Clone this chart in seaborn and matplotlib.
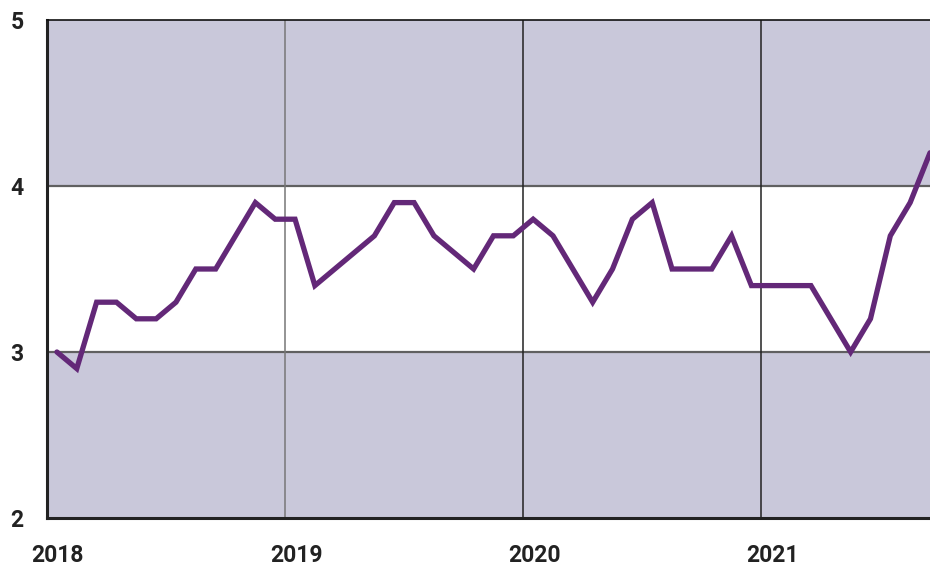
import matplotlib
matplotlib.use("Agg")
import matplotlib.pyplot as plt
import seaborn as sns
import numpy as np
import pandas as pd

# Monthly values, Jan 2018 .. Sep 2021
start_year = 2018
values = [3.0, 2.9, 3.3, 3.3, 3.2, 3.2, 3.3, 3.5, 3.5, 3.7, 3.9, 3.8,
          3.8, 3.4, 3.5, 3.6, 3.7, 3.9, 3.9, 3.7, 3.6, 3.5, 3.7, 3.7,
          3.8, 3.7, 3.5, 3.3, 3.5, 3.8, 3.9, 3.5, 3.5, 3.5, 3.7, 3.4,
          3.4, 3.4, 3.4, 3.2, 3.0, 3.2, 3.7, 3.9, 4.2]
year_labels = ["2018", "2019", "2020", "2021"]
y_ticks = [2, 3, 4, 5]

t = [start_year + (i + 0.5) / 12 for i in range(len(values))]
df = pd.DataFrame({"t": t, "value": values})

sns.set_theme(style="white")
plt.rcParams['font.family'] = ['Roboto', 'DejaVu Sans']

fig = plt.figure(figsize=(9.3, 5.68), dpi=100)
ax = fig.add_axes([47/930, 50/568, 883/930, 498/568])

band = "#c9c8da"
ax.axhspan(2, 3, color=band, zorder=0, lw=0)
ax.axhspan(4, 5, color=band, zorder=0, lw=0)

for yv in [3, 4]:
    ax.axhline(yv, color="#606060", lw=1.6, zorder=1)
vcols = ["#777777", "#222222", "#222222"]
for yr, c in zip([2019, 2020, 2021], vcols):
    ax.axvline(yr, color=c, lw=1.1, zorder=1)

sns.lineplot(data=df, x="t", y="value", ax=ax, color="#632878", lw=3.8,
             zorder=3, solid_joinstyle="miter")

ax.set_xlim(start_year, t[-1])
ax.set_ylim(2, 5)
ax.set_yticks(y_ticks)
ax.set_yticklabels([str(v) for v in y_ticks], fontsize=16.5, fontweight="bold", color="#222222")
ax.set_xticks([int(y) + 0.55 / 12 for y in year_labels])
ax.set_xticklabels(year_labels, fontsize=16.5, fontweight="bold", color="#222222")
ax.tick_params(axis="y", length=0, pad=17)
ax.tick_params(axis="x", length=0, pad=19)
ax.set_xlabel("")
ax.set_ylabel("")

ax.spines["right"].set_visible(False)
ax.spines["top"].set_color("#111111")
ax.spines["top"].set_linewidth(1.2)
ax.spines["left"].set_color("#222222")
ax.spines["left"].set_linewidth(2.2)
ax.spines["bottom"].set_color("#222222")
ax.spines["bottom"].set_linewidth(2.2)

fig.savefig("out.png", dpi=100)
